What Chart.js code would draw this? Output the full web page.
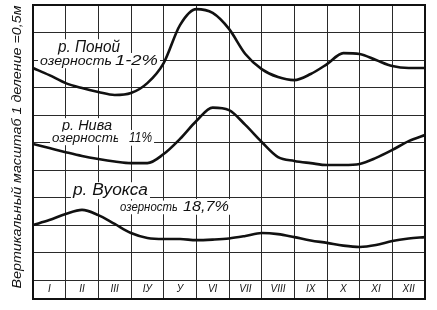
<!DOCTYPE html>
<html><head><meta charset="utf-8">
<script src="https://cdn.jsdelivr.net/npm/chart.js@4/dist/chart.umd.min.js"></script>
<style>html,body{margin:0;padding:0;background:#fff}#wrap{width:437px;height:310px}</style>
</head><body><div id="wrap"><canvas id="c" width="437" height="310"></canvas></div>
<script>
// ---- data ----
const monthLabels = ['I','II','III','IУ','У','VI','VII','VIII','IX','X','XI','XII'];
const monthPos = [0,0.5,1,1.5,2,2.5,3,3.5,4,4.5,5,5.5,6,6.5,7,7.5,8,8.5,9,9.5,10,10.5,11,11.5,12];
const ponoy  = [7.71,7.45,7.16,6.98,6.84,6.73,6.80,7.16,7.89,9.27,9.85,9.71,9.13,8.22,7.67,7.38,7.27,7.49,7.85,8.25,8.22,8.00,7.78,7.71,7.71];
const niva   = [4.95,4.80,4.65,4.51,4.40,4.31,4.25,4.25,4.58,5.13,5.78,6.27,6.18,5.64,5.02,4.47,4.33,4.25,4.18,4.18,4.22,4.44,4.73,5.05,5.27];
const vuoksa = [2.00,2.18,2.40,2.55,2.36,2.04,1.71,1.53,1.49,1.49,1.45,1.47,1.51,1.60,1.71,1.67,1.56,1.44,1.35,1.25,1.20,1.27,1.42,1.51,1.56];
const xGrid = [0,1,2,3,4,5,6,7,8,9,10,11,12];
const yGrid = [-0.69,0,1,2,3,4,5,6,7,8,9,10];
const axisTitle = 'Вертикальный масштаб 1 деление =0,5м';

// annotation texts (positions in data units, widths/sizes in px)
const notes = [
  {t:'р. Поной',   x:0.765, y:8.29, size:16, w:62, gap:2},
  {t:'озерность',  x:0.214, y:7.82, size:13, w:72, gap:2},
  {t:'1-2%',       x:2.51,  y:7.82, size:15, w:43, gap:4},
  {t:'р. Нива',    x:0.888, y:5.45, size:15, w:50, gap:2},
  {t:'озерность',  x:0.582, y:5.02, size:13, w:68, gap:2},
  {t:'11%',        x:2.94,  y:5.02, size:15, w:23, gap:11},
  {t:'р. Вуокса',  x:1.224, y:3.09, size:16, w:75, gap:2},
  {t:'озерность',  x:2.663, y:2.51, size:13, w:58, gap:2},
  {t:'18,7%',      x:4.59,  y:2.51, size:15, w:46, gap:6}
];

const FONT = '"Liberation Sans", Arial, sans-serif';
function fitText(ctx, text, size, x, y, w, gap) {
  ctx.font = 'italic ' + size + 'px ' + FONT;
  const m = ctx.measureText(text).width;
  const s = w / m;
  ctx.fillStyle = '#fff';
  ctx.fillRect(x - gap, y - size * 0.8, w + gap + 2, size * 1.05);
  ctx.save();
  ctx.translate(x, y);
  ctx.scale(s, 1);
  ctx.fillStyle = '#111';
  ctx.textAlign = 'left';
  ctx.textBaseline = 'alphabetic';
  ctx.fillText(text, 0, 0);
  ctx.restore();
}

const decor = {
  id: 'decor',
  beforeDatasetsDraw(chart) {
    const {ctx, scales: {x, y}} = chart;
    ctx.save();
    notes.forEach(n => fitText(ctx, n.t, n.size, x.getPixelForValue(n.x), y.getPixelForValue(n.y), n.w, n.gap));
    ctx.restore();
  },
  afterDatasetsDraw(chart) {
    const {ctx, chartArea: a, scales: {x, y}} = chart;
    ctx.save();
    // frame
    ctx.strokeStyle = '#111';
    ctx.lineWidth = 2;
    ctx.strokeRect(a.left, a.top, a.right - a.left, a.bottom - a.top);
    // month labels inside the bottom row
    ctx.fillStyle = '#111';
    ctx.font = 'italic 10px ' + FONT;
    ctx.textAlign = 'center';
    ctx.textBaseline = 'middle';
    const yy = y.getPixelForValue(-0.345);
    monthLabels.forEach((lab, i) => ctx.fillText(lab, x.getPixelForValue(i + 0.5), yy));
    // vertical axis title
    ctx.translate(17, 147);
    ctx.rotate(-Math.PI / 2);
    ctx.font = 'italic 13px ' + FONT;
    const m = ctx.measureText(axisTitle).width;
    ctx.scale(283 / m, 1);
    ctx.textBaseline = 'middle';
    ctx.fillText(axisTitle, 0, 0);
    ctx.restore();
  }
};

const mk = (arr) => monthPos.map((p, i) => ({x: p, y: arr[i]}));
const ds = (label, arr) => ({label, data: mk(arr), borderColor: '#111', borderWidth: 2.6, pointRadius: 0, fill: false, cubicInterpolationMode: 'monotone'});

new Chart(document.getElementById('c'), {
  type: 'line',
  data: {datasets: [ds('р. Поной', ponoy), ds('р. Нива', niva), ds('р. Вуокса', vuoksa)]},
  options: {
    responsive: false,
    animation: false,
    layout: {padding: {left: 33, right: 12, top: 5, bottom: 11}},
    plugins: {legend: {display: false}, tooltip: {enabled: false}},
    scales: {
      x: {type: 'linear', min: 0, max: 12,
          afterBuildTicks: s => { s.ticks = xGrid.map(v => ({value: v})); },
          ticks: {display: false}, grid: {color: '#2a2a2a', lineWidth: 1, drawTicks: false},
          border: {display: false}, afterFit: s => { s.height = 0; }},
      y: {type: 'linear', min: -0.69, max: 10,
          afterBuildTicks: s => { s.ticks = yGrid.map(v => ({value: v})); },
          ticks: {display: false}, grid: {color: '#2a2a2a', lineWidth: 1, drawTicks: false},
          border: {display: false}, afterFit: s => { s.width = 0; }}
    }
  },
  plugins: [decor]
});
</script></body></html>
